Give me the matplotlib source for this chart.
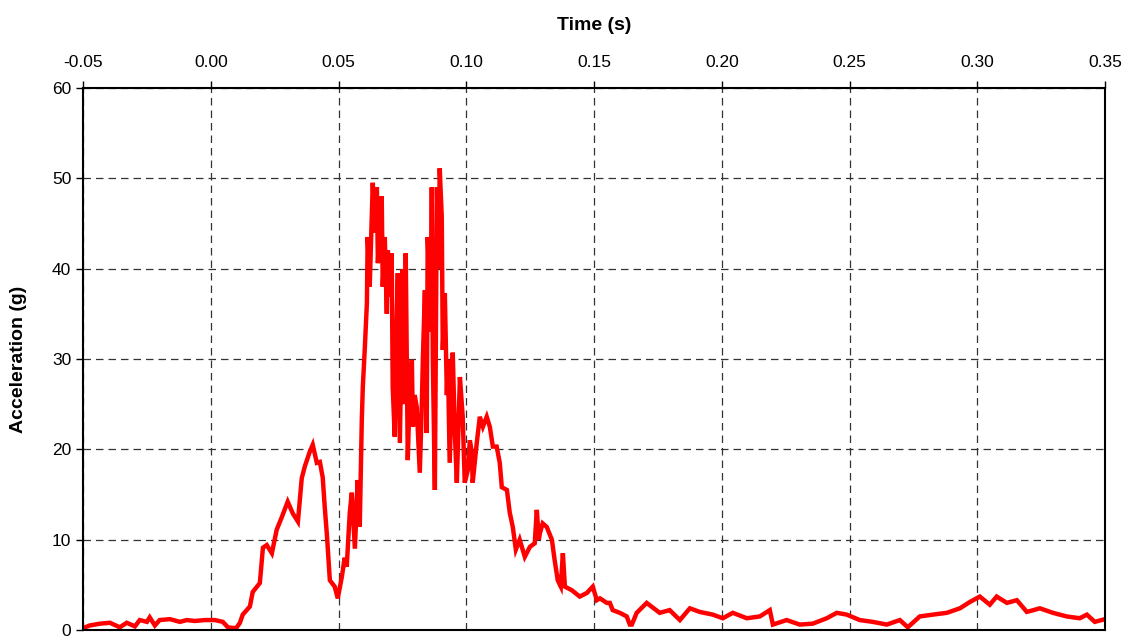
import matplotlib.pyplot as plt
import matplotlib as mpl

mpl.rcParams['font.family'] = ['Liberation Sans', 'DejaVu Sans']

# time (s) and acceleration (g)
time_s = [
    -0.0500, -0.0474, -0.0434, -0.0395, -0.0356, -0.0329, -0.0297, -0.0278,
    -0.0250, -0.0239, -0.0219, -0.0200, -0.0160, -0.0121, -0.0094, -0.0063,
    -0.0023, 0.0016, 0.0047, 0.0067, 0.0094, 0.0102, 0.0114, 0.0125,
    0.0153, 0.0164, 0.0192, 0.0204, 0.0219, 0.0239, 0.0258, 0.0278,
    0.0301, 0.0321, 0.0341, 0.0356, 0.0368, 0.0387, 0.0399, 0.0415,
    0.0427, 0.0438, 0.0446, 0.0454, 0.0466, 0.0485, 0.0497, 0.0513,
    0.0524, 0.0532, 0.0544, 0.0552, 0.0564, 0.0575, 0.0583, 0.0591,
    0.0595, 0.0603, 0.0611, 0.0614, 0.0622, 0.0630, 0.0634, 0.0642,
    0.0650, 0.0654, 0.0661, 0.0669, 0.0673, 0.0681, 0.0689, 0.0693,
    0.0700, 0.0708, 0.0712, 0.0720, 0.0728, 0.0732, 0.0740, 0.0747,
    0.0751, 0.0759, 0.0763, 0.0771, 0.0779, 0.0787, 0.0791, 0.0798,
    0.0806, 0.0818, 0.0826, 0.0830, 0.0838, 0.0845, 0.0849, 0.0861,
    0.0865, 0.0869, 0.0877, 0.0885, 0.0892, 0.0896, 0.0904, 0.0908,
    0.0916, 0.0924, 0.0928, 0.0935, 0.0947, 0.0955, 0.0963, 0.0975,
    0.0986, 0.0994, 0.1006, 0.1014, 0.1022, 0.1025, 0.1041, 0.1053,
    0.1065, 0.1080, 0.1092, 0.1104, 0.1119, 0.1131, 0.1139, 0.1159,
    0.1170, 0.1182, 0.1194, 0.1209, 0.1229, 0.1249, 0.1268, 0.1276,
    0.1284, 0.1288, 0.1299, 0.1315, 0.1335, 0.1346, 0.1358, 0.1370,
    0.1378, 0.1386, 0.1413, 0.1444, 0.1472, 0.1495, 0.1511, 0.1523,
    0.1550, 0.1562, 0.1573, 0.1601, 0.1628, 0.1640, 0.1648, 0.1667,
    0.1706, 0.1757, 0.1796, 0.1836, 0.1875, 0.1914, 0.1965, 0.2004,
    0.2043, 0.2098, 0.2149, 0.2188, 0.2200, 0.2254, 0.2305, 0.2356,
    0.2411, 0.2450, 0.2489, 0.2540, 0.2591, 0.2646, 0.2697, 0.2728,
    0.2775, 0.2826, 0.2881, 0.2932, 0.2971, 0.3010, 0.3049, 0.3076,
    0.3116, 0.3155, 0.3194, 0.3245, 0.3296, 0.3350, 0.3401, 0.3429,
    0.3460, 0.3500,
]
accel_g = [
    0.2, 0.5, 0.7, 0.8, 0.3, 0.8, 0.4, 1.1,
    0.9, 1.4, 0.5, 1.1, 1.2, 0.9, 1.1, 1.0,
    1.1, 1.1, 0.9, 0.3, 0.2, 0.3, 0.8, 1.7,
    2.6, 4.2, 5.2, 9.1, 9.4, 8.5, 11.1, 12.5,
    14.2, 12.9, 12.0, 16.8, 18.1, 19.7, 20.5, 18.5,
    18.6, 16.9, 13.6, 10.7, 5.5, 4.8, 3.5, 5.9,
    8.0, 7.0, 13.0, 15.2, 9.0, 16.6, 11.4, 23.2,
    26.9, 31.3, 36.2, 43.5, 38.0, 45.4, 49.5, 44.0,
    49.0, 40.6, 45.0, 48.0, 38.0, 43.5, 35.0, 42.0,
    36.9, 41.7, 26.9, 21.4, 35.0, 39.5, 20.7, 33.0,
    39.9, 25.0, 41.7, 18.8, 27.0, 29.9, 22.5, 26.0,
    24.7, 17.4, 25.0, 29.9, 37.6, 21.8, 43.5, 33.0,
    49.0, 30.0, 15.5, 49.0, 40.0, 51.1, 45.7, 31.0,
    37.3, 26.0, 29.9, 18.5, 30.7, 22.0, 16.3, 28.0,
    23.6, 16.3, 17.7, 21.0, 19.6, 16.3, 20.7, 23.6,
    22.5, 23.6, 22.5, 20.3, 20.3, 18.5, 15.8, 15.5,
    13.0, 11.4, 8.9, 10.0, 8.1, 9.2, 9.6, 13.3,
    10.0, 10.7, 11.8, 11.4, 10.0, 7.7, 5.5, 4.8,
    8.5, 4.8, 4.4, 3.7, 4.1, 4.8, 3.3, 3.5,
    3.0, 3.0, 2.2, 1.9, 1.5, 0.6, 0.6, 1.9,
    3.0, 1.9, 2.2, 1.1, 2.4, 2.0, 1.7, 1.3,
    1.9, 1.3, 1.5, 2.2, 0.6, 1.1, 0.6, 0.7,
    1.3, 1.9, 1.7, 1.1, 0.9, 0.6, 1.1, 0.3,
    1.5, 1.7, 1.9, 2.4, 3.1, 3.7, 2.8, 3.7,
    3.0, 3.3, 2.0, 2.4, 1.9, 1.5, 1.3, 1.7,
    0.9, 1.2,
]

x_ticks = [-0.05, 0.00, 0.05, 0.10, 0.15, 0.20, 0.25, 0.30, 0.35]
y_ticks = [0, 10, 20, 30, 40, 50, 60]

fig = plt.figure(figsize=(11.33, 6.37), dpi=100)
ax = fig.add_axes([0.0733, 0.011, 0.902, 0.851])

ax.plot(time_s, accel_g, color='#ff0000', linewidth=3.2, solid_joinstyle='miter')

ax.set_xlim(-0.05, 0.35)
ax.set_ylim(0, 60)
ax.set_xticks(x_ticks)
ax.set_xticklabels(['%.2f' % v for v in x_ticks])
ax.set_yticks(y_ticks)
ax.xaxis.tick_top()
ax.xaxis.set_label_position('top')
ax.tick_params(axis='both', direction='out', length=5, width=1, labelsize=12.5, color='black')
ax.tick_params(axis='x', pad=8)

ax.grid(True, color='#333333', linestyle=(0, (6, 4)), linewidth=0.9)
ax.set_axisbelow(True)
for sp in ax.spines.values():
    sp.set_linewidth(1.5)
    sp.set_color('black')

ax.set_xlabel('Time (s)', fontsize=14, fontweight='bold', labelpad=18)
ax.set_ylabel('Acceleration (g)', fontsize=14, fontweight='bold', labelpad=18)

fig.savefig('out.png', dpi=100)
